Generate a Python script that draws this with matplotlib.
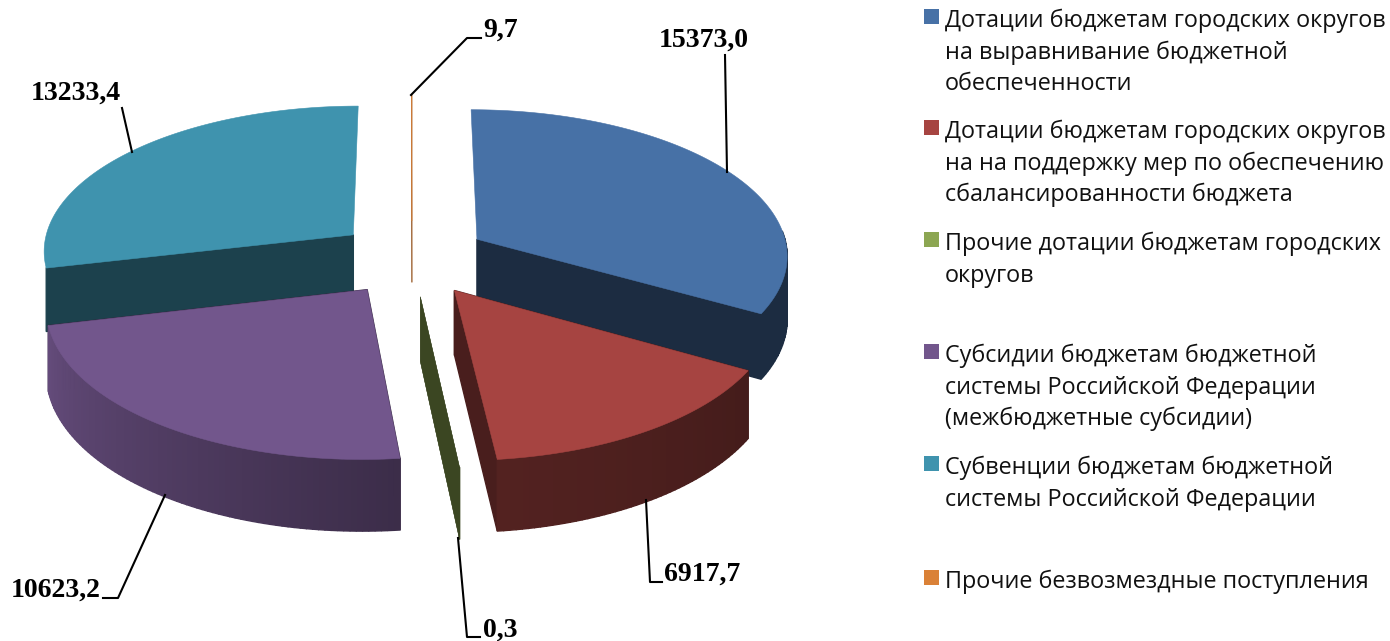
import numpy as np
import matplotlib
matplotlib.use("Agg")
import matplotlib.pyplot as plt
from matplotlib.colors import to_rgb

# chart data
categories = [
    "Дотации бюджетам городских округов\nна выравнивание бюджетной\nобеспеченности",
    "Дотации бюджетам городских округов\nна на поддержку мер по обеспечению\nсбалансированности бюджета",
    "Прочие дотации бюджетам городских\nокругов",
    "Субсидии бюджетам бюджетной\nсистемы Российской Федерации\n(межбюджетные субсидии)",
    "Субвенции бюджетам бюджетной\nсистемы Российской Федерации",
    "Прочие безвозмездные поступления",
]
values = [15373.0, 6917.7, 0.3, 10623.2, 13233.4, 9.7]
value_labels = ["15373,0", "6917,7", "0,3", "10623,2", "13233,4", "9,7"]
colors = ["#4771A6", "#A64441", "#8CA652", "#72568C", "#3F93AE", "#DA8137"]

# 3d look: (outer wall shade at slice start, at slice end, radial wall shade)
shades = [(0.39, 0.39, 0.39), (0.41, 0.50, 0.44), (0.42, 0.42, 0.42),
          (0.52, 0.88, 0.45), (0.45, 0.45, 0.44), (0.7, 0.7, 0.7)]
top_lw = [0.4, 0.4, 0, 0.4, 0.4, 0.3]
draw_order = [4, 5, 0, 3, 2, 1]

# pie geometry in pixels
CX, CY = 412, 258
RX, RY = 312, 146
EX, EY = 76, 38
DEPTH = 63
PERSP = 0.10

# label text position and leader line, pixels
label_pos = [(704, 40), (702, 574), (500, 630), (56, 590), (76, 93), (501, 30)]
leaders = [
    [(727, 172), (725, 55)],
    [(646, 500), (650, 582), (662, 582)],
    [(458, 538), (467, 637), (480, 637)],
    [(165, 495), (118, 598), (103, 598)],
    [(132, 152), (122, 108)],
    [(411, 95), (467, 38), (481, 38)],
]
legend_y = [21, 132, 244, 356, 468, 582]
LINE_STEP = 31.5


def project(theta, r, mid, z=0.0):
    x_disk = EX / RX * np.sin(mid) + r * np.sin(theta)
    y_disk = EY / RY * np.cos(mid) + r * np.cos(theta)
    p = 1 / (1 + PERSP * y_disk)
    return CX + RX * x_disk * p, CY - RY * y_disk * p + z * DEPTH * p


def quad(ax, pts, color, lw=1.0):
    xs, ys = zip(*pts)
    ax.fill(xs, ys, color=color, lw=lw, zorder=2)


def draw_slice(ax, t0, t1, color, shade, lw_top):
    mid = (t0 + t1) / 2
    base = np.array(to_rgb(color))
    wall = tuple(base * shade[2])
    tiny = t1 - t0 < 0.02

    # radial walls, the ones pointing to the back stay hidden on big slices
    for t in (t0, t1):
        if not tiny and np.cos(t) > 0.9:
            continue
        quad(ax, [project(t, 0, mid), project(t, 1, mid), project(t, 1, mid, 1), project(t, 0, mid, 1)],
             wall, 0.3 if tiny else 1.0)

    # outer wall, only the part facing the viewer
    n = max(int(np.degrees(t1 - t0)), 1)
    edges = np.linspace(t0, t1, n + 1)
    for i in range(n):
        a, b = edges[i], edges[i + 1]
        m = (a + b) / 2
        if np.cos(m) > 0.05 or np.degrees(m) > 257:
            continue
        f = (i + 0.5) / n
        c = tuple(base * (shade[0] + (shade[1] - shade[0]) * f))
        quad(ax, [project(a, 1, mid), project(b, 1, mid), project(b, 1, mid, 1), project(a, 1, mid, 1)], c)

    # top face
    th = np.linspace(t0, t1, n * 2 + 2)
    xs, ys = project(th, 1, mid)
    x0, y0 = project(t0, 0, mid)
    ax.fill(np.r_[x0, xs], np.r_[y0, ys], color=color, lw=lw_top, zorder=2)


fig = plt.figure(figsize=(13.9, 6.41), dpi=100)
ax = fig.add_axes([0, 0, 1, 1])
ax.set_xlim(0, 1390)
ax.set_ylim(641, 0)
ax.axis("off")

total = sum(values)
ends = np.cumsum(values) / total * 2 * np.pi
starts = np.r_[0, ends[:-1]]
for i in draw_order:
    draw_slice(ax, starts[i], ends[i], colors[i], shades[i], top_lw[i])

for i, pts in enumerate(leaders):
    xs, ys = zip(*pts)
    ax.plot(xs, ys, color="black", lw=1.5, zorder=3)
    ax.text(label_pos[i][0], label_pos[i][1], value_labels[i], family="Liberation Serif",
            weight="bold", fontsize=20, ha="center", va="center", zorder=4)

for i, name in enumerate(categories):
    top = legend_y[i] - 12
    ax.fill([924, 939, 939, 924], [top, top, top + 15, top + 15], color=colors[i], lw=0)
    for j, line in enumerate(name.split("\n")):
        ax.text(945, legend_y[i] + j * LINE_STEP, line, family="Open Sans", fontsize=16.8,
                ha="left", va="center", color="#111111")

fig.savefig("out.png", dpi=100)
